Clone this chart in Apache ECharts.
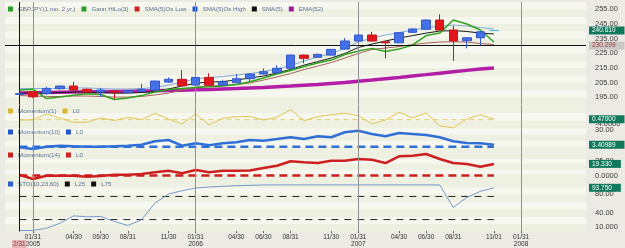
<!DOCTYPE html>
<html>
<head>
<meta charset="utf-8">
<script src="https://cdn.jsdelivr.net/npm/echarts@6/dist/echarts.min.js"></script>
<style>
  html, body { margin: 0; padding: 0; background: #eceae5; }
  #chart { width: 625px; height: 248px; }
</style>
</head>
<body>
<div id="chart"></div>
<script>
// monthly bars, index 0 = Dec 2004 ... 35 = Nov 2007
const openP  = [197.0,198.8,197.7,200.9,202.7,200.5,198.6,199.3,198.2,199.1,200.0,205.4,207.3,203.4,208.6,203.4,205.0,207.7,210.9,211.8,214.8,223.8,222.3,223.8,227.9,233.4,237.5,232.9,232.2,239.3,241.4,247.7,240.9,233.6,235.6,240.5];
const closeP = [197.5,195.4,201.1,202.7,200.0,198.6,200.0,198.6,199.5,200.5,206.1,207.3,202.9,208.6,203.2,205.6,207.7,210.9,212.5,214.8,223.8,221.6,224.3,227.7,233.4,237.5,233.4,232.2,239.1,241.6,247.7,240.9,233.4,235.6,239.7,240.61];
const lowP   = [196.5,194.6,196.8,200.3,199.6,198.0,195.4,194.0,197.8,198.8,199.6,205.0,202.5,203.0,202.7,203.0,204.6,205.6,210.5,211.4,214.4,218.2,221.9,223.4,227.5,233.0,233.0,221.6,231.8,238.9,241.0,240.5,219.8,228.4,230.7,240.3];
const highP  = [198.2,199.4,202.2,203.2,205.6,201.0,201.5,199.8,200.0,204.1,206.5,208.6,213.6,209.0,211.4,207.0,210.9,211.3,214.8,217.0,224.2,224.2,224.8,228.1,235.4,237.9,239.7,233.6,239.5,242.0,248.1,251.6,243.8,236.0,240.1,240.8];

const smaHigh = [201.0,201.0,201.0,201.0,201.4,201.4,201.0,200.7,200.7,201.0,201.7,203.4,205.4,207.7,208.5,209.2,210.2,211.2,212.6,214.3,216.7,219.8,222.5,224.9,228.3,232.7,235.4,237.5,239.2,240.9,242.3,243.6,244.3,243.6,242.6,241.6];
const sma5    = [197.9,197.9,197.9,198.3,198.6,198.6,198.3,197.9,197.9,198.3,199.0,200.7,202.7,204.7,205.4,205.8,206.8,208.2,209.5,211.6,214.0,217.0,219.4,221.8,224.9,229.0,231.3,233.4,235.4,237.1,238.8,240.2,240.5,239.9,238.8,238.2];
const smaLow  = [196.2,195.9,195.6,195.6,195.9,195.9,195.6,195.2,195.2,195.6,196.6,197.9,200.0,202.0,202.7,203.1,203.7,204.8,206.8,208.9,211.2,214.0,216.3,218.7,221.8,224.9,227.6,228.6,229.6,231.0,232.0,232.7,232.9,232.7,231.7,231.0];
const gann    = [200.0,200.6,194.2,195.2,196.4,197.5,196.9,193.5,194.5,196.2,198.6,200.3,201.0,201.8,202.2,202.7,203.7,205.6,208.2,210.9,213.3,216.0,218.4,220.4,224.2,226.6,228.4,226.2,227.9,230.7,237.1,238.8,247.7,245.0,240.9,232.7];
const ema52   = [198.0,198.15,198.3,198.45,198.6,198.75,198.9,199.05,199.2,199.35,199.5,199.7,199.9,200.15,200.4,200.7,201.0,201.4,201.8,202.25,202.7,203.25,203.8,204.5,205.2,206.0,206.8,207.7,208.6,209.55,210.5,211.5,212.5,213.4,214.3,215.0];

const mom1  = [-0.3,-0.3,5.3,1.3,-2.4,-2.4,1.6,-0.9,2.2,0,5.9,0.6,-4.0,5.3,-4.9,1.3,2.8,3.0,-0.3,2.2,9.3,-0.9,2.8,4.6,5.9,3.7,-4.0,-0.3,6.9,1.6,6.2,-5.6,-7.7,0.6,4.6,0.47];
const mom10 = [-1.1,-4.1,0,1.8,0.7,0,0,0.7,1.8,3.6,9.7,12.0,1.8,6.1,2.5,6.1,7.9,12.0,10.8,13.8,16.9,13.8,18.7,16.9,25.9,28.7,22.8,18.7,24.6,22.8,21.0,16.9,9.7,6.6,6.1,3.40989];
const mom14 = [1.3,-5.8,-0.3,-0.3,-0.3,-2.0,-0.8,1.3,1.3,2.5,5.3,8.0,3.7,9.2,5.3,8.0,8.0,8.3,12.5,16.3,23.7,22.0,20.8,24.7,24.7,27.5,26.3,20.8,32.0,33.0,35.8,27.5,20.8,19.2,14.7,19.33];
const sto   = [1.3,1.3,6.3,17.2,33.0,30.9,31.7,20.9,12.2,24.3,60.7,80.2,87.4,93.3,95.4,97.0,98.3,99.1,99.8,100,100,100,100,100,100,100,100,100,100,100,100,100,51.3,73.0,86.1,93.75];

// axis ticks
const xTickIdx  = [1,4,6,8,11,13,16,18,20,23,25,28,30,32,35,37];
const xTickText = ['01/31\n2005','04/30','06/30','08/31','11/30','01/31\n2006','04/30','06/30','08/31','11/30','01/31\n2007','04/30','06/30','08/31','11/01','01/31\n2008'];
const yearIdx = [1,13,25,37];
const priceTicks = [195,205,215,225,235,245,255];
const mom1Ticks = [-4], mom1TickText = ['-4.0000'];
const mom10Ticks = [30], mom10TickText = ['30.00'];
const mom14Ticks = [25,0], mom14TickText = ['25.00','0.0000'];
const stoTicks = [80,40,10], stoTickText = ['80.00','40.00','10.000'];

// crosshair and levels
const crossIdx = 0, crossPrice = 230.299, crossDate = '2/31';
const zeroLevel = 0, stoLow = 25, stoHigh = 75;

const FONT = '"Liberation Sans", Arial, sans-serif';
const lastIdx = closeP.length - 1;
const xMin = -1.06, xMax = 41.79;

const panels = [
  { top: 2,     height: 102.7, min: 190,  max: 260,   interval: 5 },
  { top: 105.1, height: 23.3,  min: -8.1, max: 13.5,  interval: 7.2 },
  { top: 128.3, height: 24.5,  min: -11,  max: 33,    interval: 11 },
  { top: 153,   height: 27,    min: -7.5, max: 37.5,  interval: 9 },
  { top: 180,   height: 51.4,  min: -0.6, max: 110.6, interval: 15.9 }
];

const pts = arr => arr.map((v, i) => [i, v]);
const level = v => [[0, v], [lastIdx, v]];

const vLines = () => [
  ...yearIdx.map(i => ({ xAxis: i, lineStyle: { color: '#909090', width: 1, type: 'solid' } })),
  { xAxis: crossIdx, lineStyle: { color: '#111', width: 1, type: 'solid' } }
];
const boxLabel = (text, bg, fg) => ({
  show: true, position: 'end', distance: 3, formatter: text,
  backgroundColor: bg, color: fg, fontSize: 6.5, fontFamily: FONT,
  padding: [1, 9, 0, 3], lineHeight: 7
});
const valueBox = (v, text) => ({
  yAxis: v,
  lineStyle: { color: 'rgba(0,0,0,0)', width: 1 },
  label: boxLabel(text, '#11795b', '#ffffff')
});
const markLines = extra => ({
  silent: true, symbol: ['none', 'none'], animation: false,
  label: { show: false },
  data: vLines().concat(extra)
});

const lineSeries = (name, k, data, color, width, extra) => Object.assign({
  name, type: 'line', xAxisIndex: k, yAxisIndex: k, data: pts(data),
  symbol: 'none', lineStyle: { color, width }, itemStyle: { color }
}, extra || {});
const levelSeries = (name, k, v, color, width, dash) => ({
  name, type: 'line', xAxisIndex: k, yAxisIndex: k, data: level(v),
  symbol: 'none', lineStyle: { color, width, type: dash }, itemStyle: { color }
});

const candleData = openP.map((o, i) => {
  const v = [i, o, closeP[i], lowP[i], highP[i]];
  if (i !== lastIdx) return v;
  return { value: v, itemStyle: { color: '#45c0dc', color0: '#45c0dc', borderColor: '#45c0dc', borderColor0: '#45c0dc' } };
});

const tickFmt = (ticks, texts) => v => texts[ticks.indexOf(v)];
const yLabelSets = [
  [priceTicks, v => v.toFixed(2)],
  [mom1Ticks, tickFmt(mom1Ticks, mom1TickText)],
  [mom10Ticks, tickFmt(mom10Ticks, mom10TickText)],
  [mom14Ticks, tickFmt(mom14Ticks, mom14TickText)],
  [stoTicks, tickFmt(stoTicks, stoTickText)]
];

const legendBase = {
  orient: 'horizontal', icon: 'rect', itemWidth: 5, itemHeight: 5, itemGap: 6, padding: 0,
  selectedMode: false, itemStyle: { borderWidth: 0 },
  textStyle: { fontSize: 6.2, color: '#5b6f93', fontFamily: FONT }
};
const legItem = (name, color) => ({ name, itemStyle: { color } });

const option = {
  animation: false,
  textStyle: { fontFamily: FONT },
  grid: panels.map(p => ({ left: 5, right: 39, top: p.top, height: p.height, outerBoundsMode: 'none' })),
  xAxis: panels.map((p, k) => ({
    type: 'value', gridIndex: k, min: xMin, max: xMax,
    show: k === panels.length - 1,
    splitLine: { show: false },
    axisLine: { show: false },
    axisTick: { show: true, customValues: xTickIdx, length: 2, lineStyle: { color: '#555' } },
    axisLabel: {
      customValues: xTickIdx, formatter: tickFmt(xTickIdx, xTickText),
      fontSize: 6.5, lineHeight: 7.5, color: '#333', margin: 2
    }
  })),
  yAxis: panels.map((p, k) => ({
    type: 'value', gridIndex: k, position: 'right',
    min: p.min, max: p.max, interval: p.interval,
    axisLine: { show: false },
    axisTick: { show: false },
    splitLine: { show: false },
    splitArea: { show: true, areaStyle: { color: ['#eef1e1', '#f6f7ee'] } },
    axisLabel: {
      customValues: yLabelSets[k][0], formatter: yLabelSets[k][1],
      fontSize: 7.5, color: '#3c3c3c', margin: 9
    }
  })),
  legend: [
    Object.assign({}, legendBase, { left: 8, top: 6, data: [
      legItem('GBPJPY(1 mo. 2 yr.)', '#2a9e2a'), legItem('Gann HiLo(3)', '#2a9e2a'),
      legItem('SMA(5)Os Low', '#cc2222'), legItem('SMA(5)Os High', '#2255cc'),
      legItem('SMA(5)', '#111'), legItem('EMA(52)', '#a0189a')] }),
    Object.assign({}, legendBase, { left: 8, top: 108, data: [legItem('Momentum(1)', '#d6b632'), legItem('L0', '#d6b632')] }),
    Object.assign({}, legendBase, { left: 8, top: 129, data: [legItem('Momentum(10)', '#2255cc'), legItem('L0', '#2255cc')] }),
    Object.assign({}, legendBase, { left: 8, top: 152, data: [legItem('Momentum(14)', '#cc2222'), legItem('L0', '#cc2222')] }),
    Object.assign({}, legendBase, { left: 8, top: 181, data: [legItem('STO(10,23,60)', '#2a62c9'), legItem('L25', '#111'), legItem('L75', '#111')] })
  ],
  graphic: [{
    type: 'text', left: 12, top: 240, z: 100,
    style: { text: crossDate, font: '6.5px ' + FONT, fill: '#9b2f2f', backgroundColor: '#e6b9b9', padding: [1, 1, 0, 1] }
  }],
  series: [
    lineSeries('EMA(52)', 0, ema52, '#b21ea6', 3.5, { markLine: markLines([]) }),
    lineSeries('SMA(5)Os Low', 0, smaLow, '#a8625a', 1),
    lineSeries('SMA(5)Os High', 0, smaHigh, '#86a9dc', 1),
    lineSeries('SMA(5)', 0, sma5, '#1a1a1a', 1),
    lineSeries('Gann HiLo(3)', 0, gann, '#2fa31f', 1.5),
    {
      name: 'GBPJPY(1 mo. 2 yr.)', type: 'candlestick', xAxisIndex: 0, yAxisIndex: 0, z: 5,
      barWidth: 9, data: candleData,
      itemStyle: { color: '#4670e6', color0: '#e3161d', borderColor: '#3358c9', borderColor0: '#c4161b', borderWidth: 1 },
      markLine: {
        silent: true, symbol: ['none', 'none'], animation: false, label: { show: false },
        data: [
          { yAxis: crossPrice, lineStyle: { color: '#111', width: 1, type: 'solid' },
            label: boxLabel(crossPrice.toFixed(3), '#c9c7c3', '#a03a3a') },
          valueBox(closeP[lastIdx], closeP[lastIdx].toFixed(3))
        ]
      }
    },

    levelSeries('L0', 1, zeroLevel, '#e2cc6a', 1, [5, 4]),
    lineSeries('Momentum(1)', 1, mom1, '#e0c452', 1,
      { markLine: markLines([valueBox(mom1[lastIdx], mom1[lastIdx].toFixed(5))]) }),

    levelSeries('L0', 2, zeroLevel, '#2f6fd6', 2.5, [8, 5]),
    lineSeries('Momentum(10)', 2, mom10, '#2f6fd6', 2.5,
      { markLine: markLines([valueBox(mom10[lastIdx], mom10[lastIdx].toFixed(5))]) }),

    levelSeries('L0', 3, zeroLevel, '#cc1f1f', 2.5, [8, 5]),
    lineSeries('Momentum(14)', 3, mom14, '#cc1f1f', 2.5,
      { markLine: markLines([valueBox(mom14[lastIdx], mom14[lastIdx].toFixed(3))]) }),

    levelSeries('L25', 4, stoLow, '#222', 1, [7, 6]),
    levelSeries('L75', 4, stoHigh, '#222', 1, [7, 6]),
    lineSeries('STO(10,23,60)', 4, sto, '#7399cc', 1,
      { markLine: markLines([valueBox(sto[lastIdx], sto[lastIdx].toFixed(3))]) })
  ]
};

const chart = echarts.init(document.getElementById('chart'));
chart.setOption(option);
</script>
</body>
</html>
